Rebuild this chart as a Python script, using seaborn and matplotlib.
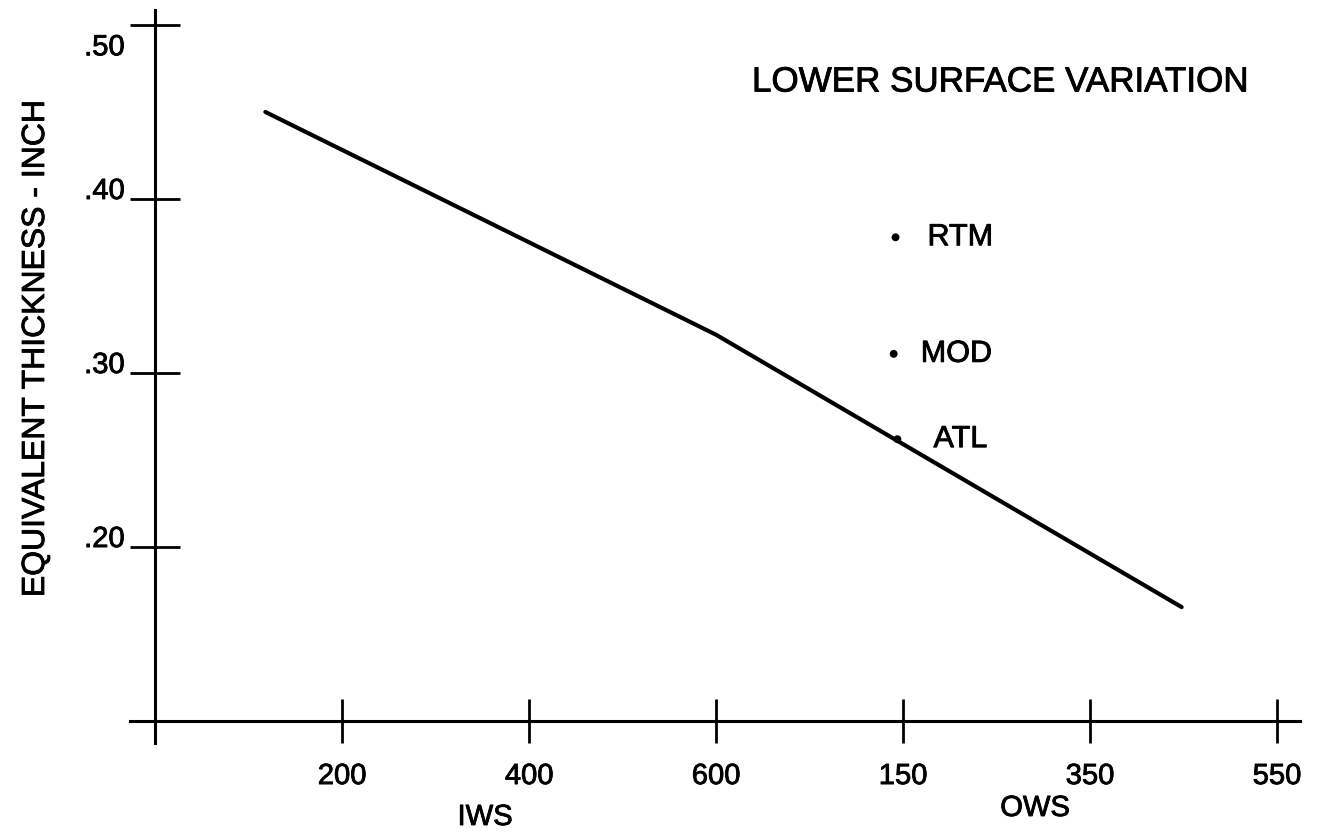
import matplotlib
matplotlib.use("Agg")
import matplotlib.pyplot as plt
import matplotlib.patheffects as pe
from matplotlib.transforms import ScaledTranslation
import seaborn as sns

# estilo limpo, sem grelha
sns.set_theme(style="white")
plt.rcParams['font.family'] = ['Liberation Sans', 'DejaVu Sans']

# --- dados ---
# eixo x combinado: posições 1..3 = IWS 200/400/600, 4..6 = OWS 150/350/550
tick_pos = [1, 2, 3, 4, 5, 6]
tick_labels = ['200', '400', '600', '150', '350', '550']
y_ticks = [0.20, 0.30, 0.40, 0.50]
y_labels = ['.20', '.30', '.40', '.50']

# curva de espessura equivalente
line_pos = [0.59, 3.0, 5.49]
line_thick = [0.450, 0.322, 0.1655]

# pontos de comparação
pt_names = ['RTM', 'MOD', 'ATL']
pt_pos = [3.96, 3.95, 3.97]
pt_thick = [0.378, 0.311, 0.262]

W, H = 1327, 833
fig = plt.figure(figsize=(W / 100, H / 100), dpi=100)
ax = fig.add_axes([130 / W, 1 - 743 / H, 1170 / W, 733 / H])

# traço ligeiramente engrossado, como no original digitalizado
bold = [pe.withStroke(linewidth=0.6, foreground='black')]

sns.lineplot(x=line_pos, y=line_thick, color='black', lw=3, ax=ax)
sns.scatterplot(x=pt_pos, y=pt_thick, color='black', s=32, edgecolor='none', ax=ax)

# rótulos dos pontos
offsets = {'RTM': 23, 'MOD': 19.5, 'ATL': 26}
for name, x, y in zip(pt_names, pt_pos, pt_thick):
    ax.annotate(name, (x, y), xytext=(offsets[name], 0), textcoords='offset points',
                ha='left', va='center', fontsize=22, color='black', path_effects=bold)

ax.set_xlim(-0.134, 6.123)
ax.set_ylim(0.0874, 0.5086)

# eixos cruzados ao estilo do desenho técnico
for s in ['top', 'right']:
    ax.spines[s].set_visible(False)
ax.spines['left'].set_position(('data', 0))
ax.spines['bottom'].set_position(('data', 0.10))
for s in ['left', 'bottom']:
    ax.spines[s].set_linewidth(2.2)
    ax.spines[s].set_color('black')

ax.set_xticks(tick_pos)
ax.set_xticklabels(tick_labels)
ax.set_yticks(y_ticks)
ax.set_yticklabels(y_labels)
ax.tick_params(axis='x', bottom=True, direction='inout', length=31, width=2, pad=14,
               labelsize=21, colors='black')
ax.tick_params(axis='y', left=True, direction='inout', length=36, width=2, pad=4,
               labelsize=21, colors='black')
for lbl in ax.get_xticklabels() + ax.get_yticklabels():
    lbl.set_path_effects(bold)
for lbl in ax.get_yticklabels():
    lbl.set_va('baseline')
# o rótulo .50 fica abaixo do traço
top_lbl = ax.get_yticklabels()[-1]
top_lbl.set_va('top')
top_lbl.set_transform(top_lbl.get_transform() + ScaledTranslation(0, -6 / 72, fig.dpi_scale_trans))

ax.patch.set_alpha(0)

fig.text(752 / W, 1 - 82 / H, 'LOWER SURFACE VARIATION', fontsize=25.2,
         ha='left', va='center', color='black', path_effects=bold)
fig.text(485 / W, 1 - 817 / H, 'IWS', fontsize=21, ha='center', va='center',
         color='black', path_effects=bold)
fig.text(1035 / W, 1 - 808 / H, 'OWS', fontsize=21, ha='center', va='center',
         color='black', path_effects=bold)
fig.text(36 / W, 1 - 348 / H, 'EQUIVALENT THICKNESS - INCH', fontsize=23,
         rotation=90, ha='center', va='center', color='black', path_effects=bold)

fig.savefig('out.png', dpi=100, facecolor='white')
